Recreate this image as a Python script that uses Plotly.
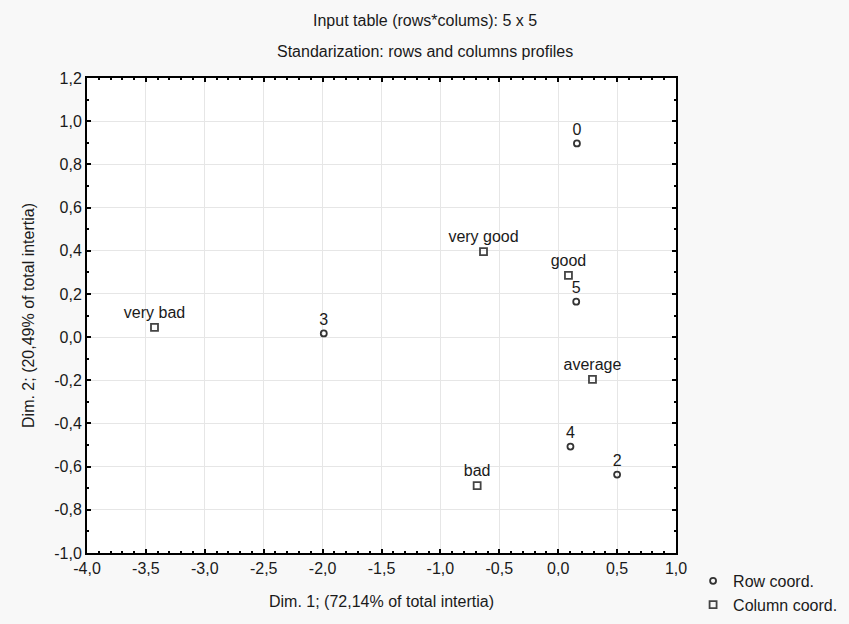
import plotly.graph_objects as go

row_labels = ["0", "2", "3", "4", "5"]
row_x = [0.159, 0.50, -1.99, 0.104, 0.153]
row_y = [0.897, -0.637, 0.017, -0.507, 0.164]

col_labels = ["very good", "good", "average", "bad", "very bad"]
col_x = [-0.634, 0.087, 0.291, -0.688, -3.427]
col_y = [0.396, 0.286, -0.196, -0.688, 0.045]

x_ticks = [-4.0, -3.5, -3.0, -2.5, -2.0, -1.5, -1.0, -0.5, 0.0, 0.5, 1.0]
y_ticks = [-1.0, -0.8, -0.6, -0.4, -0.2, 0.0, 0.2, 0.4, 0.6, 0.8, 1.0, 1.2]

def fmt(v):
    return f"{v:.1f}".replace(".", ",")

FONT = "Arial, Liberation Sans, sans-serif"
TXT = "#1a1a1a"
FS = 16

L, R, T, B = 87, 173, 78, 71
W, H = 849, 624
PW, PH = W - L - R, H - T - B

fig = go.Figure()
fig.add_trace(go.Scatter(
    x=row_x, y=row_y, mode="markers+text", text=row_labels,
    textposition="top center", name="Row coord.",
    textfont=dict(family=FONT, size=FS, color=TXT),
    marker=dict(symbol="circle-open", size=6, color="#333333", line=dict(width=1.8, color="#333333")),
))
fig.add_trace(go.Scatter(
    x=col_x, y=col_y, mode="markers+text", text=col_labels,
    textposition="top center", name="Column coord.",
    textfont=dict(family=FONT, size=FS, color=TXT),
    marker=dict(symbol="square-open", size=7, color="#444444", line=dict(width=1.8, color="#444444")),
))

axis_common = dict(
    showline=True, linecolor="black", linewidth=2, mirror="ticks",
    ticks="inside", ticklen=4, tickwidth=1.5, tickcolor="black",
    showgrid=True, gridcolor="#e6e6e6", gridwidth=1, zeroline=False,
    tickfont=dict(family=FONT, size=FS, color=TXT),
    minor=dict(dtick=0.1, ticks="inside", ticklen=2, tickwidth=1.5, tickcolor="black", showgrid=False),
)

fig.update_xaxes(range=[-4.0, 1.0], tickvals=x_ticks, ticktext=[fmt(v) for v in x_ticks],
                 title=dict(text="Dim. 1; (72,14% of total intertia)", font=dict(family=FONT, size=FS, color=TXT), standoff=20),
                 **axis_common)
fig.update_yaxes(range=[-1.0, 1.2], tickvals=y_ticks, ticktext=[fmt(v) for v in y_ticks],
                 title=dict(text="Dim. 2; (20,49% of total intertia)", font=dict(family=FONT, size=FS, color=TXT), standoff=16),
                 **axis_common)

fig.update_layout(
    width=W, height=H,
    margin=dict(l=L, r=R, t=T, b=B, autoexpand=False),
    paper_bgcolor="#f8f8f8", plot_bgcolor="white",
    font=dict(family=FONT, size=FS, color=TXT),
    showlegend=True,
    legend=dict(x=1.029, y=-0.023, xanchor="left", yanchor="top", bgcolor="rgba(0,0,0,0)",
                font=dict(family=FONT, size=FS, color=TXT), tracegroupgap=0, itemwidth=30),
)
for txt, ypx in [("Input table (rows*colums): 5 x 5", 21), ("Standarization: rows and columns profiles", 52)]:
    fig.add_annotation(text=txt, xref="paper", yref="paper",
                       x=(W / 2 - L) / PW, y=1 + (T - ypx) / PH, xanchor="center", yanchor="middle",
                       showarrow=False, font=dict(family=FONT, size=FS, color=TXT))

fig.write_html("out.html", config={"displayModeBar": False},
               post_script="document.body.style.margin='0';document.body.style.padding='0';")
